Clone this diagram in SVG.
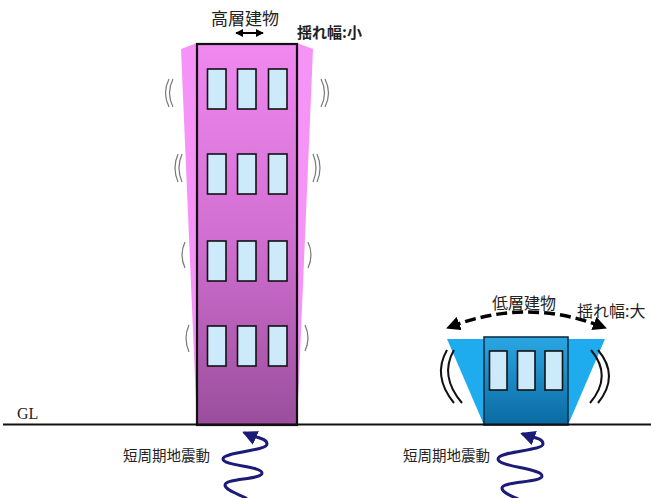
<svg xmlns="http://www.w3.org/2000/svg" width="651" height="498" viewBox="0 0 651 498">
  <defs>
    <linearGradient id="gTall" x1="0" y1="0" x2="0" y2="1">
      <stop offset="0" stop-color="#f088f0"/>
      <stop offset="0.5" stop-color="#d26fd2"/>
      <stop offset="1" stop-color="#9a4e9c"/>
    </linearGradient>
    <linearGradient id="gLow" x1="0" y1="0" x2="0" y2="1">
      <stop offset="0" stop-color="#2aa6e2"/>
      <stop offset="1" stop-color="#0a6aa2"/>
    </linearGradient>
    <marker id="waveHead" viewBox="0 0 10 10" refX="8" refY="5" markerWidth="5" markerHeight="5" orient="auto-start-reverse" markerUnits="strokeWidth">
      <path d="M0,0 L10,5 L0,10 z" fill="#1c1c78"/>
    </marker>
    <marker id="dashHead" viewBox="0 0 10 10" refX="7" refY="5" markerWidth="4" markerHeight="4" orient="auto-start-reverse" markerUnits="strokeWidth">
      <path d="M0,0 L10,5 L0,10 z" fill="#000"/>
    </marker>
    <marker id="smallHead" viewBox="0 0 10 10" refX="9" refY="5" markerWidth="4" markerHeight="4" orient="auto-start-reverse" markerUnits="strokeWidth">
      <path d="M0,0 L10,5 L0,10 z" fill="#000"/>
    </marker>
  </defs>
  <style>
    .jp { font-family: "Noto Sans CJK JP", "Noto Sans", sans-serif; fill: #222; }
    .win { fill: #cdeafb; stroke: #111; stroke-width: 1.6; }
    .shake { fill: none; stroke: #777; stroke-width: 1.2; }
    .shakeBig { fill: none; stroke: #111; stroke-width: 2; }
    .wave { fill: none; stroke: #1c1c78; stroke-width: 3; stroke-linecap: round; marker-start: url(#waveHead); }
  </style>
  <rect width="651" height="498" fill="#fff"/>

  <!-- tall building -->
  <g id="tall-building">
    <polygon points="181,49 197,43 297,43 313,49 297,425 197,425" fill="#f693f6"/>
    <rect x="197" y="44" width="100" height="381" fill="url(#gTall)" stroke="#111" stroke-width="2.2"/>
    <g>
      <rect class="win" x="207.5" y="69" width="18.5" height="40"/>
      <rect class="win" x="237.5" y="69" width="18.5" height="40"/>
      <rect class="win" x="268.5" y="69" width="18.5" height="40"/>
      <rect class="win" x="207.5" y="154" width="18.5" height="40"/>
      <rect class="win" x="237.5" y="154" width="18.5" height="40"/>
      <rect class="win" x="268.5" y="154" width="18.5" height="40"/>
      <rect class="win" x="207.5" y="241" width="18.5" height="40"/>
      <rect class="win" x="237.5" y="241" width="18.5" height="40"/>
      <rect class="win" x="268.5" y="241" width="18.5" height="40"/>
      <rect class="win" x="207.5" y="326" width="18.5" height="40"/>
      <rect class="win" x="237.5" y="326" width="18.5" height="40"/>
      <rect class="win" x="268.5" y="326" width="18.5" height="40"/>
    </g>
    <!-- sway marks -->
    <path class="shake" d="M169,79 Q162,93 169,107 M173,79 Q166,93 173,107"/>
    <path class="shake" d="M321,79 Q328,93 321,107 M325,79 Q332,93 325,107"/>
    <path class="shake" d="M178,154 Q172,168 178,182 M182,154 Q176,168 182,182"/>
    <path class="shake" d="M313,154 Q319,168 313,182 M317,154 Q323,168 317,182"/>
    <path class="shake" d="M185,242 Q179,255 185,268"/>
    <path class="shake" d="M308,242 Q314,255 308,268"/>
    <path class="shake" d="M189,325 Q183,338 189,352"/>
    <path class="shake" d="M305,325 Q311,338 305,351"/>
    <text class="jp" x="245" y="25" font-size="17" text-anchor="middle">高層建物</text>
    <line x1="236" y1="33" x2="263" y2="33" stroke="#000" stroke-width="2" marker-start="url(#smallHead)" marker-end="url(#smallHead)"/>
    <text class="jp" x="297" y="38" font-size="15" font-weight="bold">揺れ幅:小</text>
  </g>

  <!-- low building -->
  <g id="low-building">
    <polygon points="447,339 605,339 568,425 484,425" fill="#1eacee"/>
    <rect x="484" y="337" width="84" height="88" fill="url(#gLow)" stroke="#12324a" stroke-width="1.6"/>
    <rect class="win" x="489.5" y="351" width="17.5" height="39"/>
    <rect class="win" x="517.5" y="351" width="17.5" height="39"/>
    <rect class="win" x="545" y="351" width="17.5" height="39"/>
    <path class="shakeBig" d="M447,350 Q432,376 454,403 M454,350 Q439,376 462,403"/>
    <path class="shakeBig" d="M598,350 Q620,376 598,403 M591,350 Q613,376 590,403"/>
    <path d="M450,327 Q527,297 603,327" fill="none" stroke="#000" stroke-width="3.5" stroke-dasharray="11,5" marker-start="url(#dashHead)" marker-end="url(#dashHead)"/>
    <text class="jp" x="524" y="309" font-size="16" text-anchor="middle">低層建物</text>
    <text class="jp" x="577" y="317" font-size="16">揺れ幅:大</text>
  </g>

  <!-- ground line -->
  <g id="ground">
    <line x1="3" y1="424.5" x2="651" y2="424.5" stroke="#111" stroke-width="2"/>
    <text x="17" y="419" font-family="Liberation Serif, serif" font-size="16" fill="#222">GL</text>
  </g>

  <!-- ground motion -->
  <g id="connectors">
    <path class="wave" d="M245,433 C256,438 267,438 267,444 C267,451 223,452 223,459 C223,466 262,466 262,473 C262,480 225,478 225,485 C225,490 238,494 246,498"/>
    <path class="wave" d="M523,434 C534,438 543,438 543,444 C543,451 498,451 498,459 C498,467 542,468 542,476 C542,483 502,481 502,488 C502,493 512,496 520,500"/>
  </g>
  <g id="labels">
    <text class="jp" x="123" y="461" font-size="14.5">短周期地震動</text>
    <text class="jp" x="403" y="461" font-size="14.5">短周期地震動</text>
  </g>
</svg>
